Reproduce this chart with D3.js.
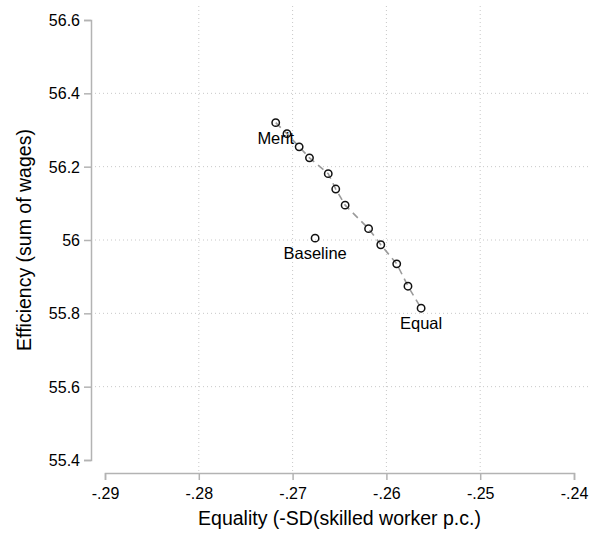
<!DOCTYPE html>
<html>
<head>
<meta charset="utf-8">
<script src="https://cdn.jsdelivr.net/npm/d3@7"></script>
<style>
  body { margin: 0; background: #fff; }
  svg { display: block; font-family: "Liberation Sans", Arial, Helvetica, sans-serif; }
</style>
</head>
<body>
<div id="chart"></div>
<script>
// Frontier points (from Merit to Equal)
const frontierX = [-0.2718, -0.2706, -0.2693, -0.2682, -0.2662, -0.2654, -0.2644, -0.2619, -0.2606, -0.2589, -0.2577, -0.2563];
const frontierY = [56.320, 56.290, 56.254, 56.224, 56.181, 56.139, 56.095, 56.031, 55.987, 55.935, 55.874, 55.814];
// Baseline point
const baselineX = [-0.2676];
const baselineY = [56.005];
// Point labels
const labelNames = ["Merit", "Equal", "Baseline"];
const xTicks = [-0.29, -0.28, -0.27, -0.26, -0.25, -0.24];
const yTicks = [55.4, 55.6, 55.8, 56, 56.2, 56.4, 56.6];
const xTitle = "Equality (-SD(skilled worker p.c.)";
const yTitle = "Efficiency (sum of wages)";

const W = 599, H = 533;
const svg = d3.select("#chart").append("svg").attr("width", W).attr("height", H);

const x = d3.scaleLinear().domain([-0.29, -0.24]).range([105, 574]);
const y = d3.scaleLinear().domain([55.4, 56.6]).range([460, 20]);

const axisColor = "#b3b3b3";
const gridColor = "#c8c8c8";
const plotLeft = 91, plotRight = 588, plotTop = 6, plotBottom = 473;

// Gridlines
svg.append("g").selectAll("line").data(yTicks.slice(1, -1)).join("line")
  .attr("x1", plotLeft).attr("x2", plotRight)
  .attr("y1", d => y(d)).attr("y2", d => y(d))
  .attr("stroke", gridColor).attr("stroke-width", 1).attr("stroke-dasharray", "1,3");
svg.append("g").selectAll("line").data(xTicks.slice(1, -1)).join("line")
  .attr("x1", d => x(d)).attr("x2", d => x(d))
  .attr("y1", plotTop).attr("y2", plotBottom)
  .attr("stroke", gridColor).attr("stroke-width", 1).attr("stroke-dasharray", "1,3");

const fmtX = d => (d < 0 ? "-" : "") + d3.format(".2f")(Math.abs(d)).replace(/^0\./, ".");
const fmtY = d => String(+d.toFixed(1));

// Y axis
const yAxis = svg.append("g").attr("transform", `translate(${plotLeft},0)`)
  .call(d3.axisLeft(y).tickValues(yTicks).tickFormat(fmtY).tickSizeOuter(0).tickSize(7).tickPadding(4));
// X axis
const xAxis = svg.append("g").attr("transform", `translate(0,${plotBottom})`)
  .call(d3.axisBottom(x).tickValues(xTicks).tickFormat(fmtX).tickSizeOuter(0).tickSize(7).tickPadding(8));

[yAxis, xAxis].forEach(g => {
  g.select(".domain").attr("stroke", axisColor).attr("stroke-width", 1.5);
  g.selectAll(".tick line").attr("stroke", axisColor).attr("stroke-width", 1.5);
  g.selectAll(".tick text").attr("fill", "#000").style("font-size", "16px")
    .style("font-family", "'Liberation Sans', Arial, Helvetica, sans-serif");
});
yAxis.selectAll(".tick text").attr("dy", "0.35em");

// Axis titles
svg.append("text")
  .attr("x", (x(-0.29) + x(-0.24)) / 2).attr("y", 525)
  .attr("text-anchor", "middle").style("font-size", "19.5px").attr("fill", "#000")
  .text(xTitle);
svg.append("text")
  .attr("transform", `translate(31,${(y(55.4) + y(56.6)) / 2}) rotate(-90)`)
  .attr("text-anchor", "middle").style("font-size", "19.5px").attr("fill", "#000")
  .text(yTitle);

// Connecting dashed line
const frontier = frontierX.map((v, i) => ({ x: v, y: frontierY[i] }));
svg.append("path").datum(frontier)
  .attr("d", d3.line().x(d => x(d.x)).y(d => y(d.y)))
  .attr("fill", "none").attr("stroke", "#9a9a9a").attr("stroke-width", 1.6)
  .attr("stroke-dasharray", "7,5");

// Markers
const baseline = baselineX.map((v, i) => ({ x: v, y: baselineY[i] }));
svg.append("g").selectAll("circle").data(frontier.concat(baseline)).join("circle")
  .attr("cx", d => x(d.x)).attr("cy", d => y(d.y)).attr("r", 3.7)
  .attr("fill", "none").attr("stroke", "#111").attr("stroke-width", 1.5);

// Labels
const labelled = [
  { name: labelNames[0], p: frontier[0] },
  { name: labelNames[1], p: frontier[frontier.length - 1] },
  { name: labelNames[2], p: baseline[0] }
];
svg.append("g").selectAll("text").data(labelled).join("text")
  .attr("x", d => x(d.p.x)).attr("y", d => y(d.p.y) + 21)
  .attr("text-anchor", "middle").style("font-size", "16.5px").attr("fill", "#000")
  .text(d => d.name);
</script>
</body>
</html>
